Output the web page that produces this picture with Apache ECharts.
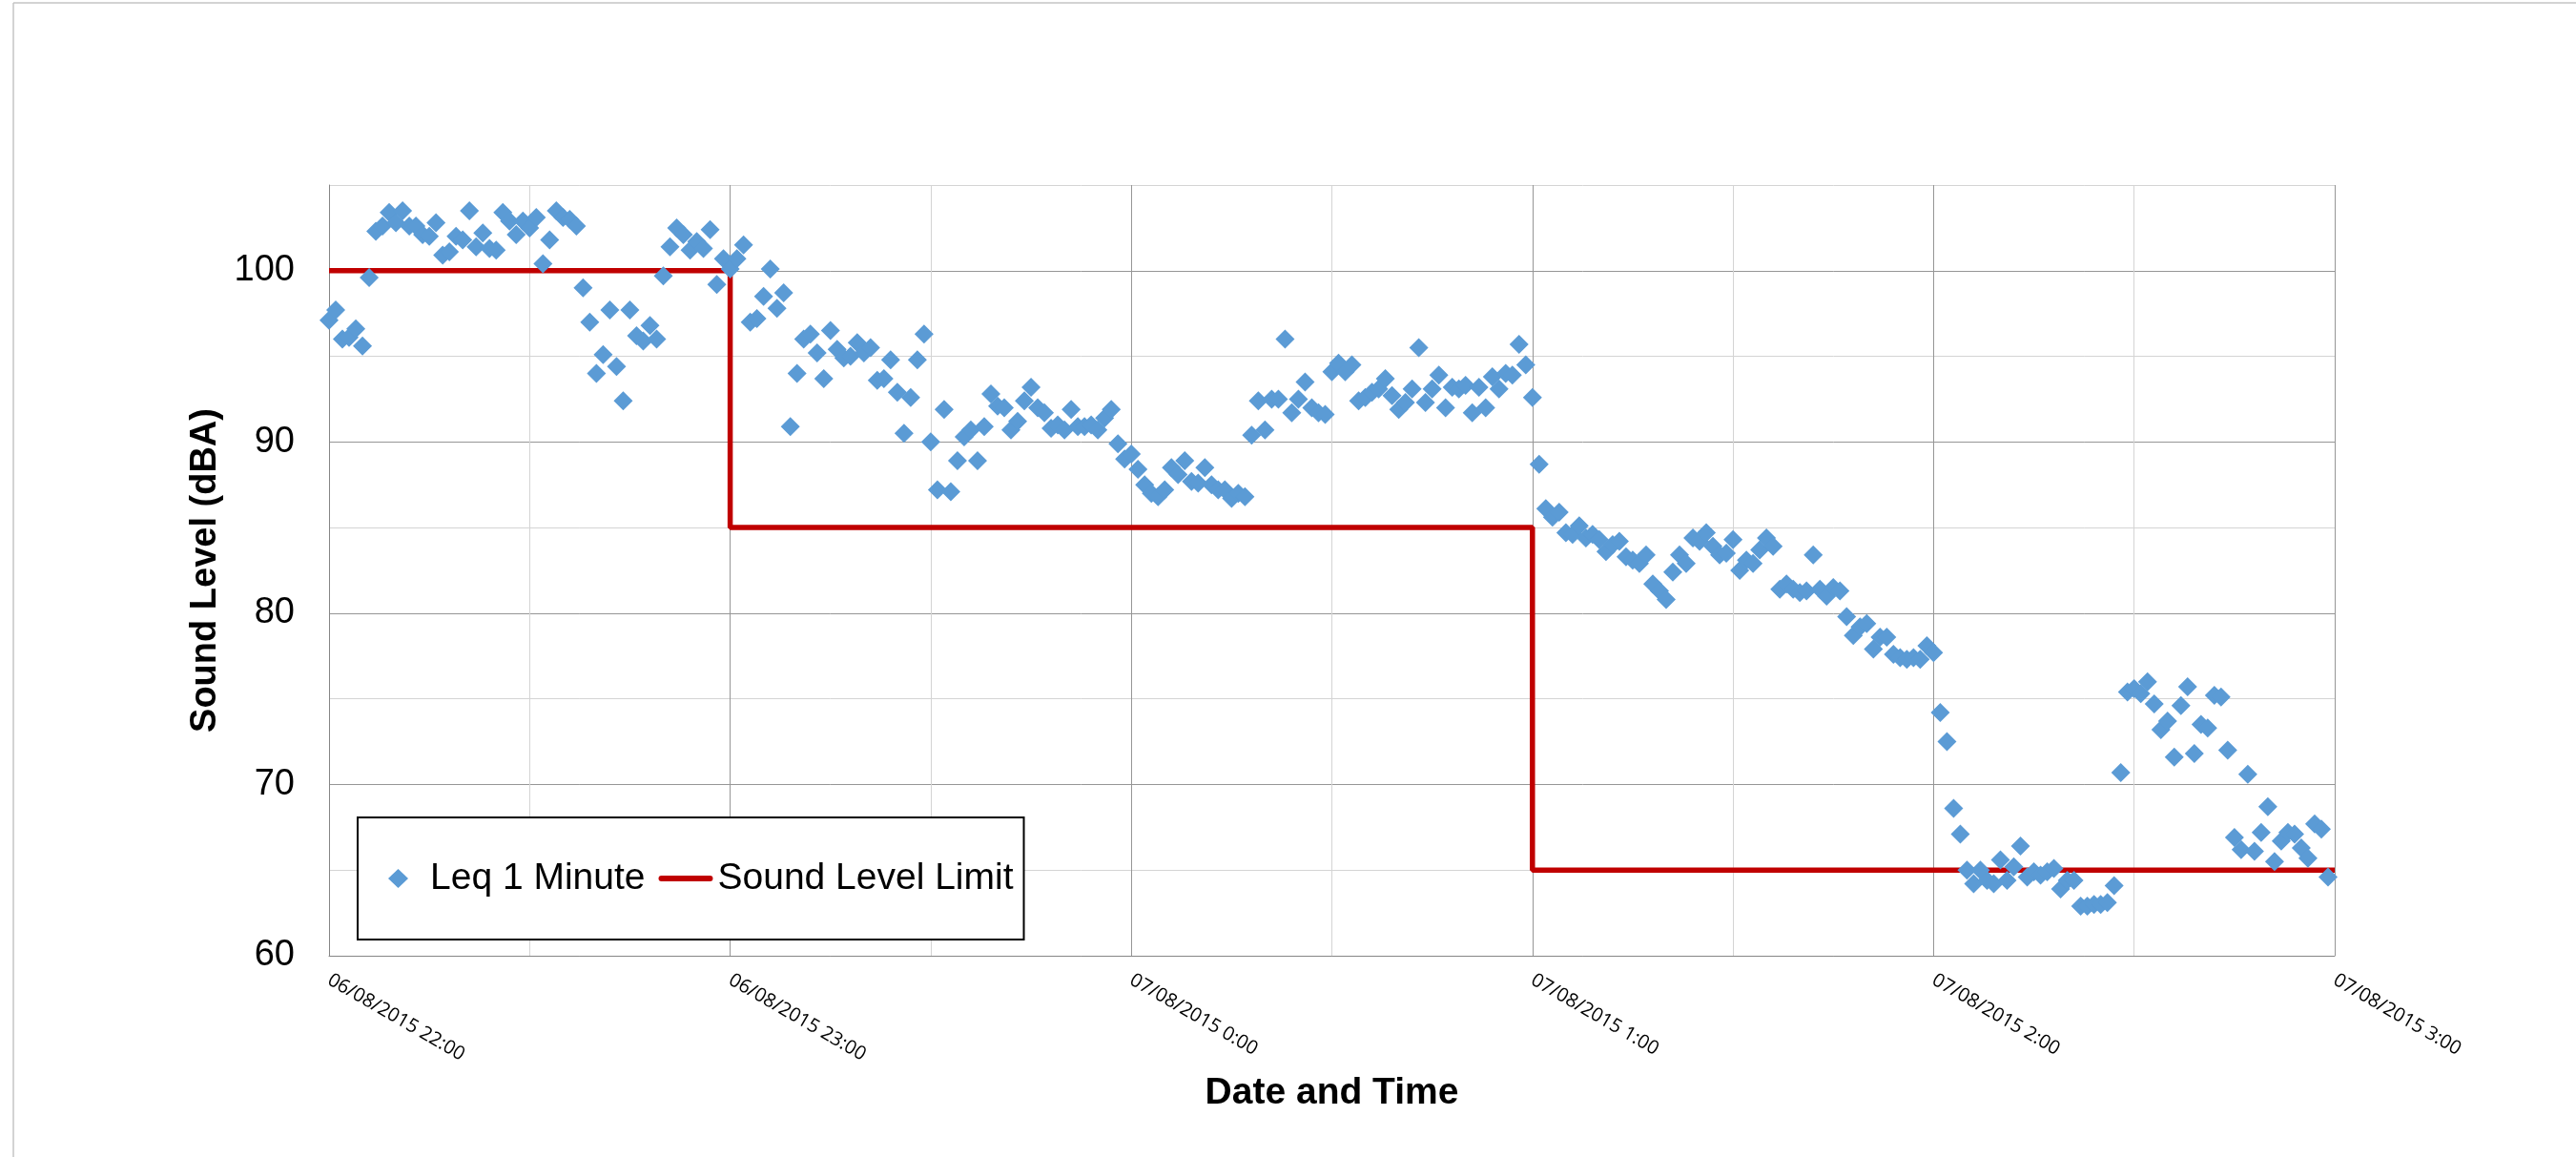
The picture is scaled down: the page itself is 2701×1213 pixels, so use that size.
<!DOCTYPE html>
<html>
<head>
<meta charset="utf-8">
<script src="https://cdn.jsdelivr.net/npm/echarts@6/dist/echarts.min.js"></script>
<style>
html,body{margin:0;padding:0;background:#fff;}
#chart{width:2701px;height:1213px;}
</style>
</head>
<body>
<div id="chart"></div>
<script>
// Leq 1 Minute readings, one per minute starting 06/08/2015 22:00
const leq = [
  97.1, 97.7, 96.0, 96.1, 96.6, 95.6, 99.6, 102.3, 102.6, 103.4,
  102.8, 103.5, 102.6, 102.6, 102.1, 102.0, 102.8, 100.9, 101.1, 102.0,
  101.8, 103.5, 101.4, 102.2, 101.3, 101.2, 103.4, 102.9, 102.1, 102.9,
  102.5, 103.1, 100.4, 101.8, 103.5, 103.1, 103.0, 102.6, 99.0, 97.0,
  94.0, 95.1, 97.7, 94.4, 92.4, 97.7, 96.2, 95.9, 96.8, 96.0,
  99.7, 101.4, 102.5, 102.1, 101.2, 101.7, 101.3, 102.4, 99.2, 100.7,
  100.1, 100.7, 101.5, 97.0, 97.2, 98.5, 100.1, 97.8, 98.7, 90.9,
  94.0, 96.0, 96.3, 95.2, 93.7, 96.5, 95.4, 94.9, 95.0, 95.8,
  95.2, 95.5, 93.6, 93.7, 94.8, 92.9, 90.5, 92.6, 94.8, 96.3,
  90.0, 87.2, 91.9, 87.1, 88.9, 90.3, 90.7, 88.9, 90.9, 92.8,
  92.1, 92.0, 90.7, 91.2, 92.4, 93.2, 92.0, 91.7, 90.8, 91.0,
  90.7, 91.9, 90.9, 90.9, 91.0, 90.7, 91.4, 91.9, 89.9, 89.0,
  89.3, 88.4, 87.5, 87.0, 86.8, 87.2, 88.5, 88.1, 88.9, 87.7,
  87.6, 88.5, 87.5, 87.2, 87.2, 86.7, 87.0, 86.8, 90.4, 92.4,
  90.7, 92.5, 92.5, 96.0, 91.7, 92.5, 93.5, 92.0, 91.7, 91.6,
  94.1, 94.6, 94.1, 94.5, 92.4, 92.6, 92.9, 93.1, 93.7, 92.7,
  91.9, 92.3, 93.1, 95.5, 92.3, 93.1, 93.9, 92.0, 93.2, 93.1,
  93.3, 91.7, 93.2, 92.0, 93.8, 93.1, 94.0, 93.9, 95.7, 94.5,
  92.6, 88.7, 86.1, 85.6, 85.9, 84.7, 84.6, 85.1, 84.4, 84.6,
  84.3, 83.6, 84.0, 84.2, 83.3, 83.1, 82.9, 83.4, 81.7, 81.3,
  80.8, 82.4, 83.4, 82.9, 84.4, 84.2, 84.7, 83.9, 83.4, 83.5,
  84.3, 82.5, 83.1, 82.9, 83.7, 84.4, 83.9, 81.4, 81.7, 81.4,
  81.2, 81.3, 83.4, 81.4, 81.0, 81.5, 81.3, 79.8, 78.7, 79.2,
  79.4, 77.9, 78.6, 78.6, 77.6, 77.4, 77.3, 77.4, 77.3, 78.1,
  77.7, 74.2, 72.5, 68.6, 67.1, 65.0, 64.2, 65.0, 64.4, 64.2,
  65.6, 64.4, 65.2, 66.4, 64.6, 64.9, 64.7, 64.9, 65.1, 63.9,
  64.4, 64.4, 62.9, 62.9, 63.0, 63.0, 63.1, 64.1, 70.7, 75.4,
  75.6, 75.3, 76.0, 74.7, 73.2, 73.7, 71.6, 74.6, 75.7, 71.8,
  73.5, 73.3, 75.2, 75.1, 72.0, 66.9, 66.2, 70.6, 66.1, 67.2,
  68.7, 65.5, 66.7, 67.2, 67.1, 66.3, 65.7, 67.7, 67.4, 64.6
];
// minutes after 06/08/2015 22:00 for each reading
const leqMinutes = leq.map((_, i) => i);

// Sound level limit (step), x in minutes after 22:00
const limitMinutes = [0, 60, 60, 180, 180, 300];
const limitValues = [100, 100, 85, 85, 65, 65];

// hourly tick labels
const xTickLabels = [
  '06/08/2015 22:00', '06/08/2015 23:00', '07/08/2015 0:00',
  '07/08/2015 1:00', '07/08/2015 2:00', '07/08/2015 3:00'
];
const seriesNames = ['Leq 1 Minute', 'Sound Level Limit'];

const chart = echarts.init(document.getElementById('chart'), null, {renderer: 'canvas'});
const majorGrid = '#969696';
const minorGrid = '#D4D4D4';
const blue = '#5B9BD5';
const red = '#C00000';

chart.setOption({
  animation: false,
  backgroundColor: '#ffffff',
  grid: {left: 345, right: 253, top: 194, bottom: 211, containLabel: false},
  graphic: [
    {type: 'line', shape: {x1: 14, y1: 3, x2: 14, y2: 1213}, style: {stroke: '#C4C4C4', lineWidth: 1.5}},
    {type: 'line', shape: {x1: 14, y1: 3, x2: 2701, y2: 3}, style: {stroke: '#C4C4C4', lineWidth: 1.5}}
  ],
  legend: {
    left: 375, top: 857,
    orient: 'horizontal',
    padding: [44, 11, 44, 14],
    itemWidth: 57, itemHeight: 20, itemGap: 14,
    symbolKeepAspect: true,
    borderColor: '#000', borderWidth: 2, backgroundColor: '#fff',
    textStyle: {fontSize: 39, fontFamily: 'Liberation Sans', color: '#000', lineHeight: 40},
    data: [
      {name: seriesNames[0], icon: 'path://M0,0 M57,20 M28.5,0 L39,10 L28.5,20 L18,10 Z', itemStyle: {color: blue}},
      {name: seriesNames[1], icon: 'path://M0,0 M57,20 M3,7 L54,7 A3,3 0 0 1 54,13 L3,13 A3,3 0 0 1 3,7 Z', itemStyle: {color: red}}
    ]
  },
  xAxis: {
    type: 'value', min: 0, max: 300, interval: 30,
    name: 'Date and Time', nameLocation: 'middle', nameGap: 125,
    nameTextStyle: {fontSize: 39, fontWeight: 'bold', fontFamily: 'Liberation Sans', color: '#000'},
    axisLine: {show: true, lineStyle: {color: '#868686', width: 1}},
    axisTick: {show: false},
    axisLabel: {
      rotate: -30, margin: 24, fontSize: 20, fontFamily: 'Open Sans', color: '#000',
      showMinLabel: true, showMaxLabel: true,
      formatter: v => (v % 60 === 0 ? xTickLabels[v / 60] : '')
    },
    splitLine: {show: true, lineStyle: {color: [majorGrid, minorGrid], width: 1}}
  },
  yAxis: {
    type: 'value', min: 60, max: 105, interval: 5,
    name: 'Sound Level (dBA)', nameLocation: 'middle', nameGap: 110,
    nameTextStyle: {fontSize: 38, fontWeight: 'bold', fontFamily: 'Liberation Sans', color: '#000'},
    axisLine: {show: true, lineStyle: {color: '#868686', width: 1}},
    axisTick: {show: false},
    axisLabel: {
      margin: 36, fontSize: 38, fontFamily: 'Liberation Sans', color: '#000',
      formatter: v => (v % 10 === 0 ? String(v) : '')
    },
    splitLine: {show: true, lineStyle: {color: [majorGrid, minorGrid], width: 1}}
  },
  series: [
    {
      name: seriesNames[0], type: 'scatter', symbol: 'diamond', symbolSize: 20,
      itemStyle: {color: blue, opacity: 1}, z: 5,
      emphasis: {disabled: true},
      data: leqMinutes.map((m, i) => [m, leq[i]])
    },
    {
      name: seriesNames[1], type: 'line', symbol: 'none', showSymbol: false,
      lineStyle: {color: red, width: 5.5}, itemStyle: {color: red}, z: 3,
      emphasis: {disabled: true},
      data: limitMinutes.map((m, i) => [m, limitValues[i]])
    }
  ]
});
</script>
</body>
</html>
